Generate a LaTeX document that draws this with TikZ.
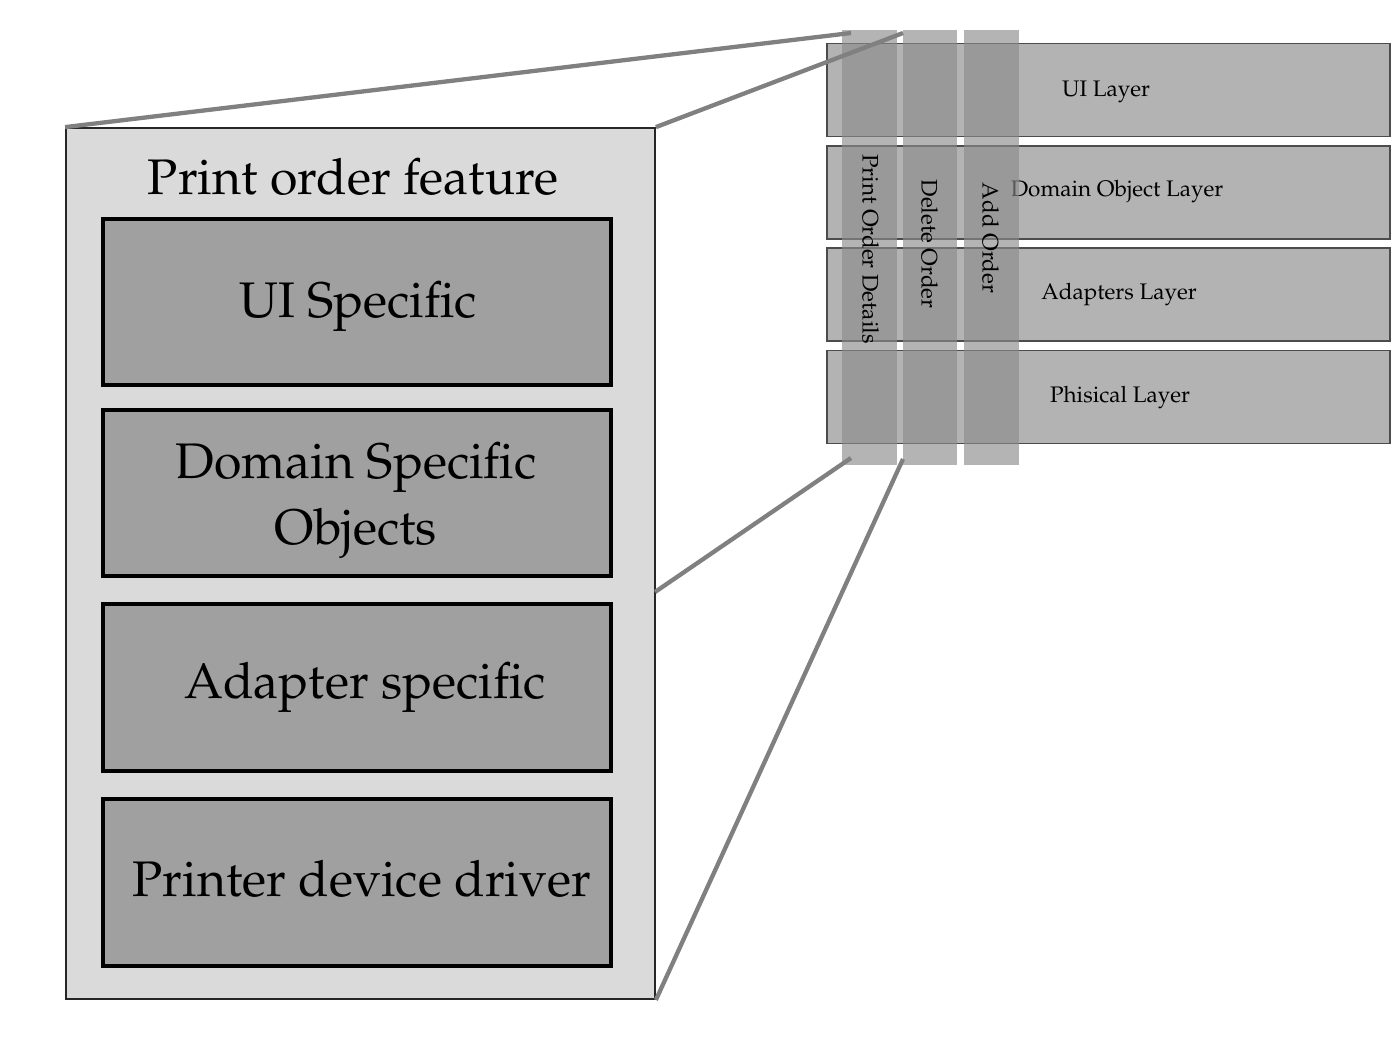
\documentclass[tikz,border=0pt]{standalone}
\usepackage[T1]{fontenc}
\usepackage{mathpazo}
\definecolor{outerfill}{HTML}{DADADA}
\definecolor{partfill}{HTML}{A0A0A0}
\definecolor{layerfill}{HTML}{B3B3B3}
\definecolor{colfill}{HTML}{8B8B8B}
\definecolor{linkgray}{HTML}{808080}
\begin{document}
\begin{tikzpicture}[x=1pt,y=-1pt,
  outerbox/.style={draw=black!85, line width=1.8pt, fill=outerfill, minimum width=589pt, minimum height=871pt, inner sep=0pt},
  partbox/.style={draw=black, line width=4.4pt, fill=partfill, minimum width=507.5pt, minimum height=166.5pt, inner sep=0pt},
  parttext/.style={inner sep=0pt, align=center, font=\fontsize{50}{66}\selectfont},
  titletext/.style={font=\fontsize{50}{60}\selectfont, inner sep=0pt},
  layerbox/.style={draw=black!70, line width=1.2pt, fill=layerfill, minimum width=563pt, minimum height=93pt, inner sep=0pt},
  layertext/.style={font=\fontsize{22.5}{26}\selectfont, inner sep=0pt},
  colbox/.style={fill=colfill, fill opacity=0.645, minimum height=435pt, inner sep=0pt},
  coltext/.style={rotate=-90, font=\fontsize{22.5}{26}\selectfont, inner sep=0pt},
  link/.style={draw=linkgray, line width=4.3pt}]
\useasboundingbox (0,0) rectangle (1400,1050);
\fill[white] (0,0) rectangle (1400,1050);
% left feature box
\node[outerbox] (outer) at (360.5,563.5) {};
\node[titletext] (title) at (353,177) {Print order feature};
\node[partbox] (ui) at (357,302) {};
\node[partbox] (dom) at (357,493) {};
\node[partbox] (adp) at (357,687.5) {};
\node[partbox] (drv) at (357,882.5) {};
\node[parttext] (uit) at (358,306) {UI Specific};
\node[parttext] (domt) at (356,500) {Domain Specific\\Objects};
\node[parttext] (adpt) at (365,687.5) {Adapter specific};
\node[parttext] (drvt) at (362,878.5) {Printer device driver};
% layers
\node[layerbox] (l1) at (1108.5,90) {};
\node[layerbox] (l2) at (1108.5,192.5) {};
\node[layerbox] (l3) at (1108.5,294.5) {};
\node[layerbox] (l4) at (1108.5,397) {};
\node[layertext] (t1) at (1106,92) {UI Layer};
\node[layertext] (t2) at (1117,192) {Domain Object Layer};
\node[layertext] (t3) at (1119,295) {Adapters Layer};
\node[layertext] (t4) at (1120,398) {Phisical Layer};
% columns
\node[colbox, minimum width=55pt] (c1) at (869.5,247.5) {};
\node[colbox, minimum width=54pt] (c2) at (930,247.5) {};
\node[colbox, minimum width=55pt] (c3) at (991.5,247.5) {};
\node[coltext] (ct1) at (870.5,249) {Print Order Details};
\node[coltext] (ct2) at (929.5,244) {Delete Order};
\node[coltext] (ct3) at (990.5,238) {Add Order};
% connector end points
\coordinate (a1) at (851,33);
\coordinate (a2) at (903,33);
\coordinate (b1) at (851,458);
\coordinate (b2) at (903,459);
\coordinate (m) at (655,592);
% connectors
\draw[link] (outer.north west) -- (a1);
\draw[link] (outer.north east) -- (a2);
\draw[link] (m) -- (b1);
\draw[link] (outer.south east) -- (b2);
\end{tikzpicture}
\end{document}
